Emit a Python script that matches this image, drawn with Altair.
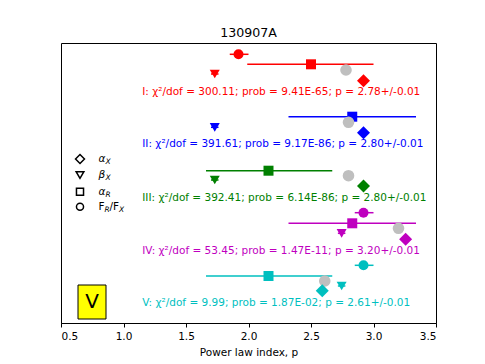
import altair as alt
import pandas as pd

# ---------------- data ----------------
groups = ["I", "II", "III", "IV", "V"]
colors = ["#ff0000", "#0000ff", "#008000", "#bf00bf", "#00bfbf"]
chi2 = [300.11, 391.61, 392.41, 53.45, 9.99]
probs = ["9.41E-65", "9.17E-86", "6.14E-86", "1.47E-11", "1.87E-02"]
p_fit = [2.78, 2.80, 2.80, 3.20, 2.61]
p_err = [0.01, 0.01, 0.01, 0.01, 0.01]

# vertical row positions (arbitrary units, bottom = 0, top = 280)
row_square = [258.7, 206.3, 152.3, 99.7, 47.0]
row_pfit = [253.0, 200.7, 147.3, 94.7, 42.0]
row_tri = [249.0, 195.7, 143.0, 89.7, 37.0]
row_diam = [242.3, 190.3, 137.0, 83.7, 32.3]
row_text = [230.7, 178.7, 125.3, 72.0, 20.3]

# alpha_R (squares) with errors
alpha_R = [2.50, 2.83, 2.16, 2.83, 2.16]
alpha_R_lo = [1.99, 2.32, 1.66, 2.32, 1.66]
alpha_R_hi = [3.00, 3.34, 2.67, 3.34, 2.67]

# beta_X (triangles)
beta_X = [1.73, 1.73, 1.73, 2.745, 2.745]
beta_X_err = [0.03, 0.03, 0.03, 0.03, 0.03]

# alpha_X (diamonds)
alpha_X = [2.92, 2.92, 2.92, 3.257, 2.59]

# F_R/F_X (circles) - only groups where visible
circ_groups = ["I", "IV", "V"]
circ_x = [1.92, 2.92, 2.92]
circ_lo = [1.85, 2.85, 2.85]
circ_hi = [2.00, 3.00, 3.00]
circ_row = [268.7, 110.3, 57.7]

x_ticks = [0.5, 1.0, 1.5, 2.0, 2.5, 3.0, 3.5]

# legend
leg_shapes = ["diamond", "triangle-down", "square", "circle"]
leg_sizes = [80, 60, 50, 50]
leg_row = [164.0, 148.0, 131.3, 116.3]
leg_x = 0.652
leg_label_x = 0.80

# panel box
box_label = "V"
box_x = [0.636, 0.86]
box_row = [4.0, 38.0]

FONT = "DejaVu Sans"
gcolor = dict(zip(groups, colors))

grp = pd.DataFrame({
    "g": groups, "color": colors, "chi2": chi2, "prob": probs,
    "p": p_fit, "perr": p_err,
    "sq": alpha_R, "sq_lo": alpha_R_lo, "sq_hi": alpha_R_hi,
    "tri": beta_X, "tri_lo": [b - e for b, e in zip(beta_X, beta_X_err)],
    "tri_hi": [b + e for b, e in zip(beta_X, beta_X_err)],
    "dia": alpha_X,
    "r_sq": row_square, "r_p": row_pfit, "r_tri": row_tri,
    "r_dia": row_diam, "r_txt": row_text,
})
grp["label"] = [
    f"{g}: χ²/dof = {c:.2f}; prob = {pr}; p = {p:.2f}+/-{e:.2f}"
    for g, c, pr, p, e in zip(groups, chi2, probs, p_fit, p_err)
]
circ = pd.DataFrame({"g": circ_groups, "x": circ_x, "lo": circ_lo,
                     "hi": circ_hi, "r": circ_row})
circ["color"] = [gcolor[g] for g in circ_groups]

xs = alt.Scale(domain=[0.5, 3.5], nice=False, zero=False)
ys = alt.Scale(domain=[0, 280], nice=False, zero=False)
col = alt.Color("color:N", scale=None)

xaxis = alt.Axis(values=x_ticks, format=".1f", grid=False, title="Power law index, p",
                 tickSize=4, labelPadding=4, labelFontSize=10.5, titleFontSize=10.5,
                 titleFontWeight="normal", labelColor="black", titleColor="black",
                 domainColor="black", tickColor="black", titleY=32,
                 titleBaseline="alphabetic", labelFont=FONT, titleFont=FONT)

base_g = alt.Chart(grp)

sq_err = base_g.mark_rule(strokeWidth=1.5).encode(
    x=alt.X("sq_lo:Q", scale=xs, axis=xaxis), x2="sq_hi:Q",
    y=alt.Y("r_sq:Q", scale=ys, axis=None), color=col)
tri_err = base_g.mark_rule(strokeWidth=1.5).encode(
    x=alt.X("tri_lo:Q", scale=xs), x2="tri_hi:Q",
    y=alt.Y("r_tri:Q", scale=ys), color=col)
c_err = alt.Chart(circ).mark_rule(strokeWidth=1.5).encode(
    x=alt.X("lo:Q", scale=xs), x2="hi:Q", y=alt.Y("r:Q", scale=ys), color=col)
c_pts = alt.Chart(circ).mark_point(shape="circle", filled=True, size=100, opacity=1).encode(
    x=alt.X("x:Q", scale=xs), y=alt.Y("r:Q", scale=ys), color=col)
sq_pts = base_g.mark_point(shape="square", filled=True, size=100, opacity=1).encode(
    x=alt.X("sq:Q", scale=xs), y=alt.Y("r_sq:Q", scale=ys), color=col)
p_pts = base_g.mark_point(shape="circle", filled=True, size=135, opacity=1,
                          color="#bfbfbf").encode(
    x=alt.X("p:Q", scale=xs), y=alt.Y("r_p:Q", scale=ys))
tri_pts = base_g.mark_point(shape="triangle-down", filled=True, size=100, opacity=1).encode(
    x=alt.X("tri:Q", scale=xs), y=alt.Y("r_tri:Q", scale=ys), color=col)
dia_pts = base_g.mark_point(shape="diamond", filled=True, size=170, opacity=1).encode(
    x=alt.X("dia:Q", scale=xs), y=alt.Y("r_dia:Q", scale=ys), color=col)
txt = base_g.mark_text(align="left", baseline="middle", fontSize=10.5, font=FONT).encode(
    x=alt.X("tx:Q", scale=xs), y=alt.Y("r_txt:Q", scale=ys), text="label:N", color=col
).transform_calculate(tx="1.15")

# legend
leg = pd.DataFrame({"shape": leg_shapes, "size": leg_sizes, "r": leg_row,
                    "x": [leg_x] * 4, "lx": [leg_label_x] * 4,
                    "base": ["α", "β", "α", "F"],
                    "sub": ["X", "X", "R", "R"]})
leg_pts = alt.Chart(leg).mark_point(filled=False, strokeWidth=1.5, color="black", opacity=1).encode(
    x=alt.X("x:Q", scale=xs), y=alt.Y("r:Q", scale=ys),
    shape=alt.Shape("shape:N", scale=None), size=alt.Size("size:Q", scale=None))
leg_greek = alt.Chart(leg.iloc[:3]).mark_text(align="left", baseline="middle", fontSize=10.5,
                                             font=FONT, fontStyle="italic", color="black").encode(
    x=alt.X("lx:Q", scale=xs), y=alt.Y("r:Q", scale=ys), text="base:N")
leg_gsub = alt.Chart(leg.iloc[:3]).mark_text(align="left", baseline="middle", fontSize=7.5,
                                            font=FONT, fontStyle="italic", color="black",
                                            dx=7, dy=3).encode(
    x=alt.X("lx:Q", scale=xs), y=alt.Y("r:Q", scale=ys), text="sub:N")
lastrow = leg.iloc[3:]
leg_F = alt.Chart(lastrow).mark_text(align="left", baseline="middle", fontSize=10.5,
                                     font=FONT, color="black").encode(
    x=alt.X("lx:Q", scale=xs), y=alt.Y("r:Q", scale=ys), text=alt.value("F"))
leg_R = alt.Chart(lastrow).mark_text(align="left", baseline="middle", fontSize=7.5,
                                     font=FONT, fontStyle="italic", color="black",
                                     dx=6, dy=3).encode(
    x=alt.X("lx:Q", scale=xs), y=alt.Y("r:Q", scale=ys), text=alt.value("R"))
leg_F2 = alt.Chart(lastrow).mark_text(align="left", baseline="middle", fontSize=10.5,
                                      font=FONT, color="black", dx=11).encode(
    x=alt.X("lx:Q", scale=xs), y=alt.Y("r:Q", scale=ys), text=alt.value("/F"))
leg_X = alt.Chart(lastrow).mark_text(align="left", baseline="middle", fontSize=7.5,
                                     font=FONT, fontStyle="italic", color="black",
                                     dx=20.5, dy=3).encode(
    x=alt.X("lx:Q", scale=xs), y=alt.Y("r:Q", scale=ys), text=alt.value("X"))

box = pd.DataFrame({"x1": [box_x[0]], "x2": [box_x[1]], "y1": [box_row[0]], "y2": [box_row[1]],
                    "xc": [(box_x[0] + box_x[1]) / 2], "yc": [(box_row[0] + box_row[1]) / 2],
                    "t": [box_label]})
box_rect = alt.Chart(box).mark_rect(fill="#ffff00", stroke="black", strokeWidth=1).encode(
    x=alt.X("x1:Q", scale=xs), x2="x2:Q", y=alt.Y("y1:Q", scale=ys), y2="y2:Q")
box_txt = alt.Chart(box).mark_text(fontSize=20, font=FONT, color="black", baseline="middle",
                                   align="center").encode(
    x=alt.X("xc:Q", scale=xs), y=alt.Y("yc:Q", scale=ys), text="t:N")

chart = alt.layer(
    sq_err, tri_err, c_err, c_pts, sq_pts, p_pts, tri_pts, dia_pts, txt,
    leg_pts, leg_greek, leg_gsub, leg_F, leg_R, leg_F2, leg_X, box_rect, box_txt
).properties(
    width=375, height=280,
    title=alt.TitleParams("130907A", fontSize=12.6, font=FONT, fontWeight="normal",
                          color="black", offset=5, baseline="alphabetic", dy=12),
    autosize=alt.AutoSizeParams(type="none"),
    padding={"left": 53, "top": 35, "right": 10, "bottom": 36},
).configure(
    font=FONT, view=alt.ViewConfig(stroke="black", strokeWidth=1)
)

chart.save("out.html", embed_options={"renderer": "svg", "actions": False})
